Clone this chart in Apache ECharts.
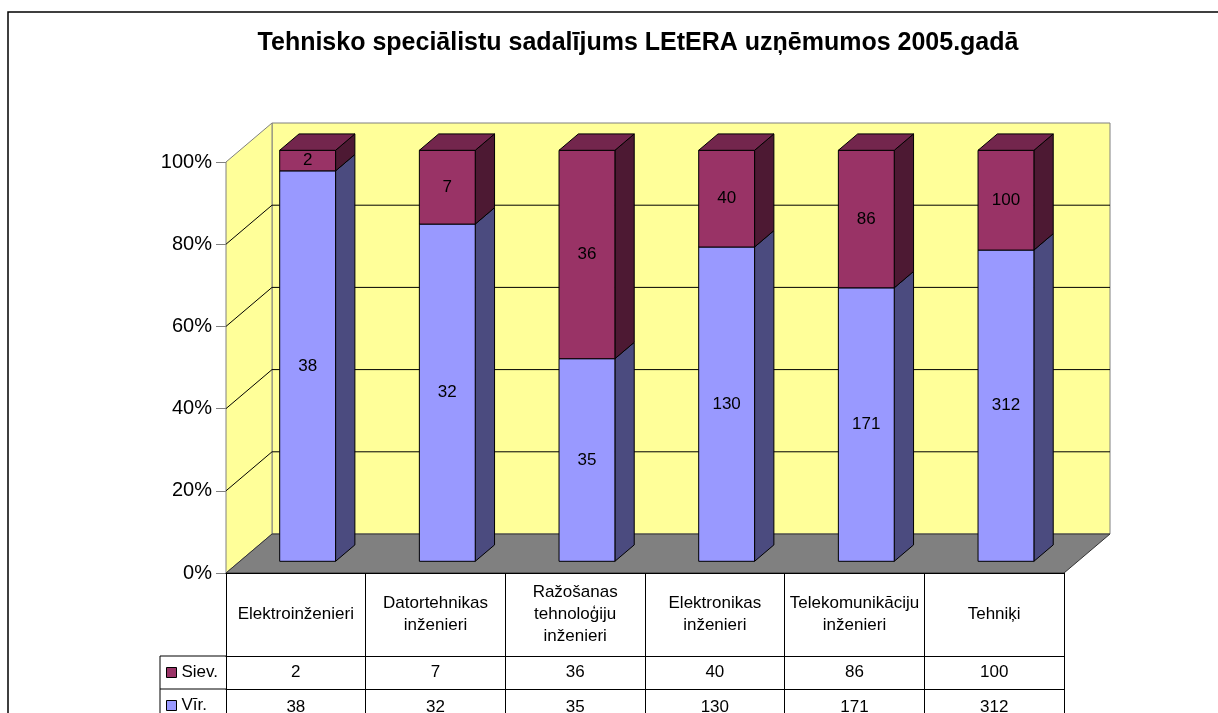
<!DOCTYPE html>
<html>
<head>
<meta charset="utf-8">
<script src="https://cdn.jsdelivr.net/npm/echarts@6/dist/echarts.min.js"></script>
<style>
  html, body { margin: 0; padding: 0; background: #fff; }
  #chart { width: 1218px; height: 713px; }
</style>
</head>
<body>
<div id="chart"></div>
<script>
// chart data
const categories = [
    'Elektroinženieri',
    'Datortehnikas\ninženieri',
    'Ražošanas\ntehnoloģiju\ninženieri',
    'Elektronikas\ninženieri',
    'Telekomunikāciju\ninženieri',
    'Tehniķi'
];
const siev = [2, 7, 36, 40, 86, 100];
const vir = [38, 32, 35, 130, 171, 312];
const yTicks = [0, 20, 40, 60, 80, 100];
const titleText = 'Tehnisko speciālistu sadalījums LEtERA uzņēmumos 2005.gadā';

const FONT = '"Liberation Sans", Arial, sans-serif';
// 3d depth of the plot box, and where the bars sit in it
const DEPTH = [46, -39];
const BAR_FRONT = 0.3;
const BAR_BACK = 0.72;

const colors = {
    'Vīr.': { front: '#9999FF', side: '#4B4B7F', top: '#7373BF' },
    'Siev.': { front: '#993366', side: '#4D1933', top: '#73264D' }
};

// stacked 100% values
const virData = categories.map((c, i) => {
    const pct = vir[i] / (vir[i] + siev[i]) * 100;
    return [i, 0, pct, vir[i]];
});
const sievData = categories.map((c, i) => {
    const pct = vir[i] / (vir[i] + siev[i]) * 100;
    return [i, pct, 100, siev[i]];
});

function renderWalls(params, api) {
    const cs = params.coordSys;
    const L = cs.x, R = cs.x + cs.width;
    const yb = api.coord([0, 0])[1];
    const yt = api.coord([0, 100])[1];
    const dx = DEPTH[0], dy = DEPTH[1];
    const children = [
        {
            type: 'rect',
            shape: { x: L + dx, y: yt + dy, width: R - L, height: yb - yt },
            style: { fill: '#FFFF99', stroke: '#808080', lineWidth: 1 }
        },
        {
            type: 'polygon',
            shape: { points: [[L, yt], [L + dx, yt + dy], [L + dx, yb + dy], [L, yb]] },
            style: { fill: '#FFFF99', stroke: '#808080', lineWidth: 1 }
        }
    ];
    yTicks.filter(v => v > 0 && v < 100).forEach(v => {
        const y = api.coord([0, v])[1];
        children.push({
            type: 'polyline',
            shape: { points: [[L, y], [L + dx, y + dy], [R + dx, y + dy]] },
            style: { stroke: '#000', lineWidth: 1, fill: null }
        });
    });
    children.push({
        type: 'polygon',
        shape: { points: [[L, yb], [L + dx, yb + dy], [R + dx, yb + dy], [R, yb]] },
        style: { fill: '#808080', stroke: '#333', lineWidth: 1 }
    });
    return { type: 'group', children: children };
}

function renderBar(params, api) {
    const idx = api.value(0);
    const v0 = api.value(1);
    const v1 = api.value(2);
    const band = api.size([1, 0])[0];
    const w = band * 0.4;
    const cx = api.coord([idx, 0])[0] - 2;
    const fx = DEPTH[0] * BAR_FRONT, fy = DEPTH[1] * BAR_FRONT;
    const dx = DEPTH[0] * (BAR_BACK - BAR_FRONT), dy = DEPTH[1] * (BAR_BACK - BAR_FRONT);
    const x0 = cx - w / 2 + fx, x1 = cx + w / 2 + fx;
    const b = api.coord([idx, v0])[1] + fy;
    const t = api.coord([idx, v1])[1] + fy;
    const c = colors[params.seriesName];
    const children = [
        {
            type: 'polygon',
            shape: { points: [[x1, t], [x1 + dx, t + dy], [x1 + dx, b + dy], [x1, b]] },
            style: { fill: c.side, stroke: '#000', lineWidth: 1 }
        },
        {
            type: 'rect',
            shape: { x: x0, y: t, width: w, height: b - t },
            style: { fill: c.front, stroke: '#000', lineWidth: 1 }
        }
    ];
    if (v1 >= 99.99) {
        children.push({
            type: 'polygon',
            shape: { points: [[x0, t], [x0 + dx, t + dy], [x1 + dx, t + dy], [x1, t]] },
            style: { fill: c.top, stroke: '#000', lineWidth: 1 }
        });
    }
    children.push({
        type: 'text',
        style: {
            text: String(api.value(3)),
            x: (x0 + x1) / 2,
            y: (t + b) / 2,
            align: 'center',
            verticalAlign: 'middle',
            font: '17px ' + FONT,
            fill: '#000'
        }
    });
    return { type: 'group', children: children };
}

const tableAxis = (offset, tickLen, margin, formatter) => ({
    type: 'category',
    data: categories,
    position: 'bottom',
    offset: offset,
    z: 10,
    axisLine: { show: true, lineStyle: { color: '#000', width: 1 } },
    axisTick: { show: true, interval: 0, length: tickLen, lineStyle: { color: '#000' } },
    axisLabel: {
        interval: 0,
        margin: margin,
        verticalAlign: 'middle',
        fontSize: 17,
        lineHeight: 22,
        fontFamily: FONT,
        color: '#000',
        formatter: formatter
    }
});

const legendItem = (name, top) => ({
    orient: 'vertical',
    left: 166,
    top: top,
    padding: 0,
    itemWidth: 10,
    itemHeight: 10,
    icon: 'rect',
    selectedMode: false,
    data: [name],
    itemStyle: { borderColor: '#000', borderWidth: 1 },
    textStyle: { fontSize: 17, lineHeight: 33, fontFamily: FONT, color: '#000' }
});

const chart = echarts.init(document.getElementById('chart'));
const option = {
    animation: false,
    backgroundColor: '#fff',
    grid: { left: 226, right: 154, top: 162, bottom: 140, outerBoundsMode: 'none', containLabel: false },
    legend: [legendItem('Siev.', 656), legendItem('Vīr.', 689)],
    xAxis: [
        tableAxis(0, 83, 41.5),
        tableAxis(83, 33, 16.5, (v, i) => String(siev[i])),
        tableAxis(116, 40, 18, (v, i) => String(vir[i]))
    ],
    yAxis: {
        type: 'value',
        min: 0,
        max: 100,
        interval: 20,
        axisLine: { show: true, lineStyle: { color: '#808080' } },
        axisTick: { show: true, length: 10, lineStyle: { color: '#808080' } },
        axisLabel: { formatter: '{value}%', fontSize: 20, margin: 14, fontFamily: FONT, color: '#000' },
        splitLine: { show: false }
    },
    graphic: [
        {
            type: 'rect',
            shape: { x: 8, y: 12, width: 1400, height: 900 },
            style: { fill: null, stroke: '#000', lineWidth: 1.5 },
            silent: true
        },
        {
            type: 'text',
            x: 638,
            y: 43,
            style: {
                text: titleText,
                align: 'center',
                verticalAlign: 'middle',
                font: 'bold 25px ' + FONT,
                fill: '#000'
            }
        },
        {
            type: 'polyline',
            shape: { points: [[226, 656], [160, 656], [160, 720]] },
            style: { stroke: '#000', lineWidth: 1, fill: null }
        },
        {
            type: 'line',
            shape: { x1: 160, y1: 689, x2: 226, y2: 689 },
            style: { stroke: '#000', lineWidth: 1 }
        }
    ],
    series: [
        {
            type: 'custom',
            name: 'walls',
            renderItem: renderWalls,
            data: [[0, 0]],
            encode: { x: 0, y: 1 },
            silent: true,
            z: 1
        },
        {
            type: 'custom',
            name: 'Vīr.',
            renderItem: renderBar,
            itemStyle: { color: colors['Vīr.'].front },
            data: virData,
            encode: { x: 0, y: [1, 2] },
            z: 3
        },
        {
            type: 'custom',
            name: 'Siev.',
            renderItem: renderBar,
            itemStyle: { color: colors['Siev.'].front },
            data: sievData,
            encode: { x: 0, y: [1, 2] },
            z: 3
        }
    ]
};
chart.setOption(option);
</script>
</body>
</html>
